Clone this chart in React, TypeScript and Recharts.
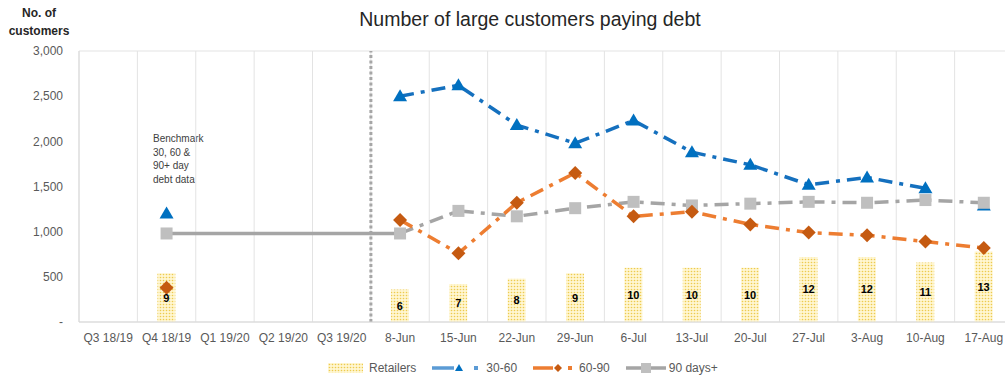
import React from "react";
import {
  ComposedChart,
  Bar,
  Line,
  XAxis,
  YAxis,
  CartesianGrid,
  ReferenceLine,
  LabelList,
} from "recharts";

const categories = [
  "Q3 18/19",
  "Q4 18/19",
  "Q1 19/20",
  "Q2 19/20",
  "Q3 19/20",
  "8-Jun",
  "15-Jun",
  "22-Jun",
  "29-Jun",
  "6-Jul",
  "13-Jul",
  "20-Jul",
  "27-Jul",
  "3-Aug",
  "10-Aug",
  "17-Aug",
];
const retailers = [null, 9, null, null, null, 6, 7, 8, 9, 10, 10, 10, 12, 12, 11, 13];
const days30to60 = [null, 1200, null, null, null, 2500, 2620, 2180, 1980, 2230, 1880, 1740, 1520, 1600, 1480, 1290];
const days60to90 = [null, 380, null, null, null, 1130, 760, 1320, 1650, 1170, 1220, 1080, 990, 960, 890, 820];
const days90plus = [null, 980, null, null, null, 980, 1230, 1170, 1260, 1330, 1290, 1310, 1330, 1320, 1350, 1320];
const yTicks = [0, 500, 1000, 1500, 2000, 2500, 3000];

const benchmarkCat = "Q4 18/19";
const firstWeek = "8-Jun";
const lastWeek = "17-Aug";

const data = categories.map((c, i) => ({
  cat: c,
  retailers: retailers[i],
  // last 30-60 point sits behind the 90+ marker, not joined to the line
  d30: c === lastWeek ? null : days30to60[i],
  d30tail: c === lastWeek ? days30to60[i] : null,
  d60: days60to90[i],
  d90: days90plus[i],
  bench: c === benchmarkCat || c === firstWeek ? days90plus[i] : null,
}));

const FONT = "'Liberation Sans', Arial, sans-serif";
const BLUE = "#1570BE";
const BLUE_DARK = "#0070C0";
const ORANGE = "#ED7D31";
const ORANGE_DARK = "#C55A11";
const GRAY = "#A5A5A5";
const GRAY_LIGHT = "#BFBFBF";
const DASH = "14 7 4 7";

const Triangle = (props: any) => {
  const { cx, cy, value } = props;
  if (value == null || cx == null) return null;
  return (
    <path
      d={`M${cx},${cy - 7} L${cx + 7},${cy + 5} L${cx - 7},${cy + 5} Z`}
      fill={BLUE_DARK}
    />
  );
};

const Diamond = (props: any) => {
  const { cx, cy, value } = props;
  if (value == null || cx == null) return null;
  return (
    <path
      d={`M${cx},${cy - 7} L${cx + 7},${cy} L${cx},${cy + 7} L${cx - 7},${cy} Z`}
      fill={ORANGE_DARK}
    />
  );
};

const Square = (props: any) => {
  const { cx, cy, value } = props;
  if (value == null || cx == null) return null;
  return <rect x={cx - 6} y={cy - 6} width={12} height={12} fill={GRAY_LIGHT} />;
};

const yFmt = (v: number) => (v === 0 ? "-" : v.toLocaleString("en-US"));

const legendText: React.CSSProperties = {
  fontSize: 12,
  color: "#595959",
  marginLeft: 6,
  marginRight: 16,
};

const Legend = () => (
  <div
    style={{
      position: "absolute",
      left: 328,
      top: 361,
      display: "flex",
      alignItems: "center",
      fontFamily: FONT,
    }}
  >
    <svg width={35} height={10}>
      <rect width={35} height={10} fill="url(#dots)" />
    </svg>
    <span style={legendText}>Retailers</span>
    <svg width={48} height={12}>
      <line x1={0} y1={6} x2={22} y2={6} stroke="#5B9BD5" strokeWidth={3.5} />
      <path d="M27,2 L31,9 L23,9 Z" fill={BLUE_DARK} />
      <rect x={42} y={4} width={4} height={4} fill="#5B9BD5" />
    </svg>
    <span style={legendText}>30-60</span>
    <svg width={40} height={12}>
      <line x1={0} y1={6} x2={20} y2={6} stroke={ORANGE} strokeWidth={3.5} />
      <path d="M25,2 L29,6 L25,10 L21,6 Z" fill={ORANGE_DARK} />
      <rect x={35} y={4} width={4} height={4} fill={ORANGE} />
    </svg>
    <span style={legendText}>60-90</span>
    <svg width={40} height={12}>
      <line x1={0} y1={6} x2={40} y2={6} stroke={GRAY} strokeWidth={3.5} />
      <rect x={15} y={1} width={10} height={10} fill={GRAY_LIGHT} />
    </svg>
    <span style={{ ...legendText, marginLeft: 3 }}>90 days+</span>
  </div>
);

export default function App() {
  return (
    <div
      style={{
        position: "absolute",
        left: 0,
        top: 0,
        width: 1005,
        height: 379,
        overflow: "hidden",
        background: "#fff",
        fontFamily: FONT,
      }}
    >
      <div
        style={{
          position: "absolute",
          left: 280,
          top: 8,
          width: 500,
          textAlign: "center",
          fontSize: 19.5,
          color: "#262626",
        }}
      >
        Number of large customers paying debt
      </div>
      <div
        style={{
          position: "absolute",
          left: 0,
          top: 4,
          width: 78,
          textAlign: "center",
          fontSize: 12,
          fontWeight: "bold",
          lineHeight: "18px",
          color: "#262626",
        }}
      >
        No. of
        <br />
        customers
      </div>
      <div
        style={{
          position: "absolute",
          left: 153,
          top: 132,
          fontSize: 10,
          lineHeight: "13.7px",
          color: "#404040",
        }}
      >
        Benchmark
        <br />
        30, 60 &amp;
        <br />
        90+ day
        <br />
        debt data
      </div>
      <ComposedChart
        width={1018}
        height={379}
        data={data}
        margin={{ top: 51, right: 5, left: 0, bottom: 27 }}
        style={{ position: "absolute", left: 0, top: 0 }}
      >
        <defs>
          <pattern id="dots" width={3} height={3} patternUnits="userSpaceOnUse">
            <rect width={3} height={3} fill="#FFF6D0" />
            <circle cx={1.5} cy={1.5} r={0.8} fill="#EDCB4F" />
          </pattern>
        </defs>
        <CartesianGrid
          stroke="#E3E3E3"
          verticalCoordinatesGenerator={({ offset }: any) =>
            categories.map((_, i) => offset.left + (i * offset.width) / categories.length)
          }
        />
        <XAxis
          dataKey="cat"
          interval={0}
          height={30}
          tickLine={false}
          tickSize={0}
          tickMargin={11}
          axisLine={{ stroke: "#D9D9D9" }}
          tick={{ fontSize: 12, fill: "#595959", fontFamily: FONT }}
        />
        <YAxis
          yAxisId="left"
          width={79}
          domain={[0, 3000]}
          ticks={yTicks}
          tickFormatter={yFmt}
          tickLine={false}
          tickSize={0}
          tickMargin={16}
          axisLine={{ stroke: "#D9D9D9" }}
          tick={{ fontSize: 12, fill: "#595959", fontFamily: FONT }}
        />
        <YAxis yAxisId="right" orientation="right" hide domain={[0, 50]} />
        <Bar
          yAxisId="right"
          dataKey="retailers"
          barSize={18}
          fill="url(#dots)"
          isAnimationActive={false}
        >
          <LabelList
            dataKey="retailers"
            position="center"
            style={{ fontSize: 11, fontWeight: "bold", fill: "#000", fontFamily: FONT }}
          />
        </Bar>
        <ReferenceLine
          yAxisId="left"
          x={firstWeek}
          position="start"
          stroke="#A6A6A6"
          strokeWidth={3}
          strokeDasharray="3 2.5"
        />
        <Line
          yAxisId="left"
          dataKey="d30tail"
          stroke="none"
          dot={<Triangle />}
          isAnimationActive={false}
        />
        <Line
          yAxisId="left"
          dataKey="bench"
          stroke={GRAY}
          strokeWidth={3.5}
          dot={false}
          connectNulls
          isAnimationActive={false}
        />
        <Line
          yAxisId="left"
          dataKey="d90"
          stroke={GRAY}
          strokeWidth={3.5}
          strokeDasharray={DASH}
          dot={<Square />}
          isAnimationActive={false}
        />
        <Line
          yAxisId="left"
          dataKey="d60"
          stroke={ORANGE}
          strokeWidth={3.5}
          strokeDasharray={DASH}
          dot={<Diamond />}
          isAnimationActive={false}
        />
        <Line
          yAxisId="left"
          dataKey="d30"
          stroke={BLUE}
          strokeWidth={3.5}
          strokeDasharray={DASH}
          dot={<Triangle />}
          isAnimationActive={false}
        />
      </ComposedChart>
      <Legend />
    </div>
  );
}
